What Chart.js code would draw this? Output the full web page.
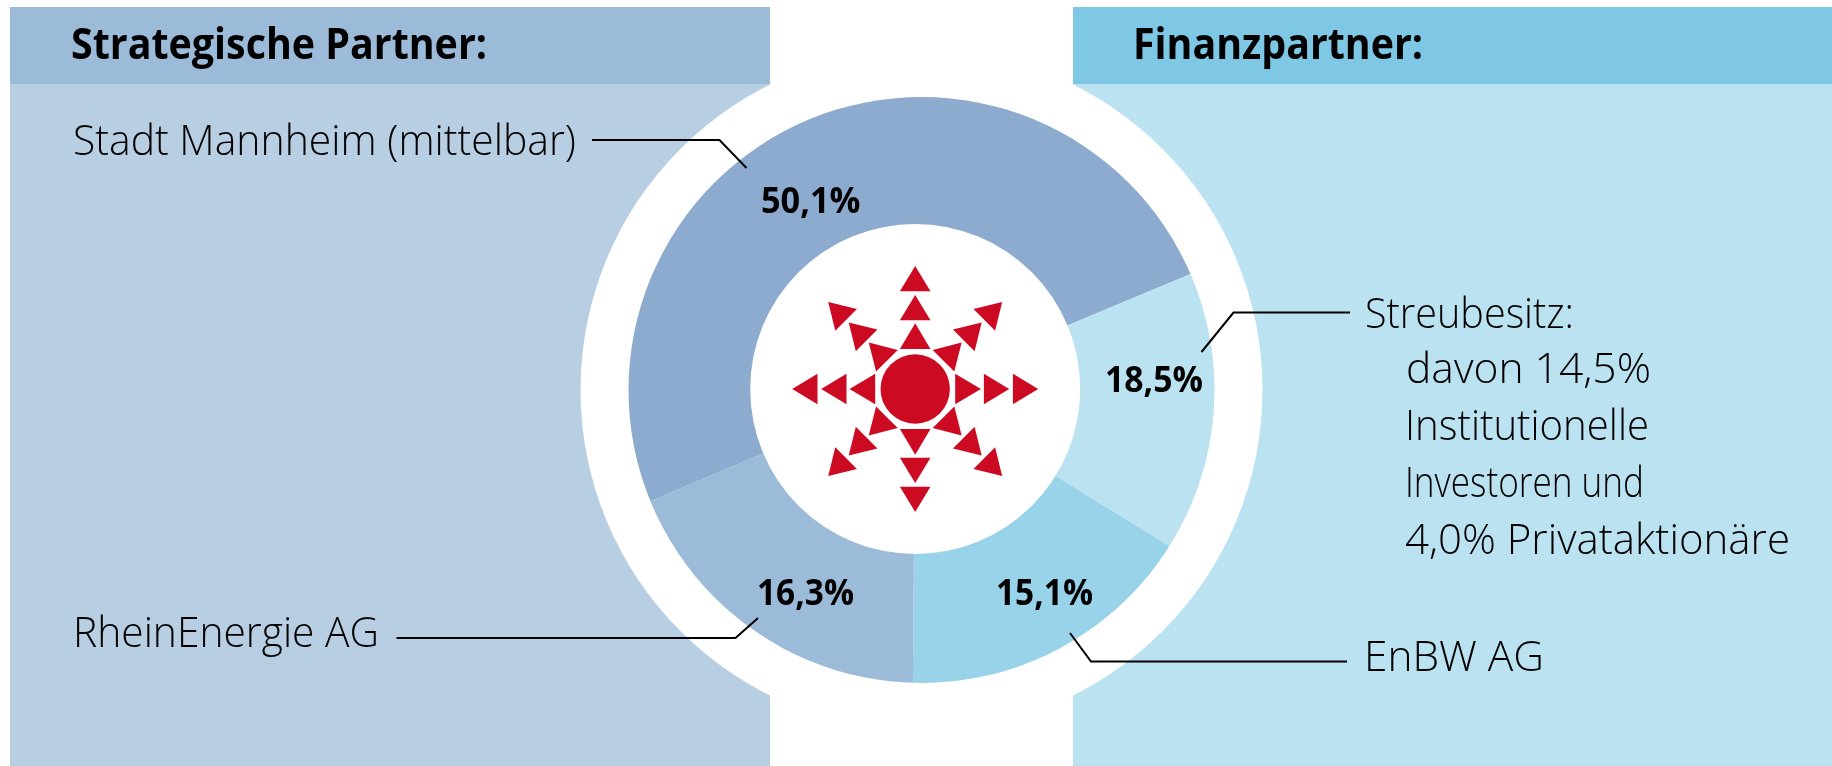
<!DOCTYPE html>
<html><head><meta charset="utf-8">
<script src="https://cdn.jsdelivr.net/npm/chart.js@4/dist/chart.umd.min.js"></script>
<style>
html,body{margin:0;padding:0;background:#fff;width:1832px;height:766px;overflow:hidden}
#wrap{position:relative;width:1832px;height:766px}
canvas{position:absolute;left:0;top:0}
.t{position:absolute;white-space:nowrap;color:#000;font-family:"Open Sans",sans-serif;transform-origin:0 0;line-height:1}
.b{font-weight:700}.l{font-weight:300}
</style></head><body>
<div id="wrap"><canvas id="c" width="1832" height="766"></canvas></div>
<script>
// Clockwise order in which the wedges are actually sized in the picture
const sliceNames = ["Stadt Mannheim","EnBW AG (Winkel)","RheinEnergie (Winkel)","Streubesitz (Winkel)"];
const sliceValues = [50.1, 15.1, 16.3, 18.5];
const sliceColors = ["#8CABCE","#BAE2F0","#99D3E9","#9BBBD8"];
// text: [string, class, left, baseline, width, fontSize]
const texts = [
 ["Strategische Partner:","b",71,59,416,43],
 ["Finanzpartner:","b",1133,59,290,43],
 ["Stadt Mannheim (mittelbar)","l",72.5,154.5,503,43],
 ["RheinEnergie AG","l",73,646.5,306,43],
 ["Streubesitz:","l",1365,327.5,209,43],
 ["davon 14,5%","l",1406,383,245,43],
 ["Institutionelle","l",1405,440,244,43],
 ["Investoren und","l",1405,497,239,43],
 ["4,0% Privataktionäre","l",1405,554,385,43],
 ["EnBW AG","l",1364,671,180,43],
 ["50,1%","b",760.5,212.5,99.5,36],
 ["18,5%","b",1105,391.5,98,36],
 ["16,3%","b",757,605,97,36],
 ["15,1%","b",996,605,97,36]
];
const leaders = [
 [[592,140],[719.5,140],[746.5,168]],
 [[1350,312.5],[1233.5,312.5],[1201.5,352]],
 [[396.5,638],[735.5,638],[758,618]],
 [[1070,633],[1091,661.5],[1347,661.5]]
];
const panels = [
 [10,7,760,77,"#9BBBD8"],[10,84,760,682,"#B8CFE3"],
 [1073,7,759,77,"#7EC8E5"],[1073,84,759,682,"#BAE2F0"]
];
const ring = {x:921.5,y:390,white:341,outer:293};
const hub = {x:915.2,y:389,inner:165,dot:34.7};
const arrowRows = [[40,65.7],[68.7,94],[97.7,123]];
const arrowHalf = 15.3, red = "#CC0A22";

const backdrop = {id:"backdrop",
 beforeDraw(ch){const c=ch.ctx;
  c.save();
  panels.forEach(p=>{c.fillStyle=p[4];c.fillRect(p[0],p[1],p[2],p[3]);});
  c.fillStyle="#fff";c.beginPath();c.arc(ring.x,ring.y,ring.white,0,Math.PI*2);c.fill();
  c.restore();},
 beforeDatasetsDraw(ch){const c=ch.ctx;
  c.save();c.beginPath();c.arc(ring.x,ring.y,ring.outer,0,Math.PI*2);c.clip();},
 afterDatasetsDraw(ch){const c=ch.ctx;
  c.restore();
  c.save();
  c.fillStyle="#fff";c.beginPath();c.arc(hub.x,hub.y,hub.inner,0,Math.PI*2);c.fill();
  c.fillStyle=red;c.beginPath();c.arc(hub.x,hub.y,hub.dot,0,Math.PI*2);c.fill();
  for(let k=0;k<8;k++){
   c.save();c.translate(hub.x,hub.y);c.rotate(k*Math.PI/4);
   arrowRows.forEach(r=>{c.beginPath();c.moveTo(-arrowHalf,-r[0]);c.lineTo(arrowHalf,-r[0]);c.lineTo(0,-r[1]);c.closePath();c.fill();});
   c.restore();
  }
  c.strokeStyle="#000";c.lineWidth=2;c.lineJoin="miter";
  leaders.forEach(l=>{c.beginPath();l.forEach((p,i)=>i?c.lineTo(p[0],p[1]):c.moveTo(p[0],p[1]));c.stroke();});
  c.restore();}
};

new Chart(document.getElementById("c"),{
 type:"doughnut",
 data:{labels:sliceNames,datasets:[{data:sliceValues,backgroundColor:sliceColors,borderWidth:0}]},
 options:{responsive:false,animation:false,rotation:247,cutout:"40%",
  layout:{padding:{left:595,right:597,top:69,bottom:57}},
  plugins:{legend:{display:false},tooltip:{enabled:false},title:{display:false}}},
 plugins:[backdrop]
});

const wrap=document.getElementById("wrap");
function place(){
 texts.forEach(t=>{
  const d=document.createElement("div");d.className="t "+t[1];d.textContent=t[0];
  d.style.fontSize=t[5]+"px";d.style.left=t[2]+"px";
  wrap.appendChild(d);
  const w=d.getBoundingClientRect().width;
  const s=document.createElement("span");s.style.cssText="display:inline-block;width:0;height:0";
  d.appendChild(s);
  const base=s.getBoundingClientRect().bottom-d.getBoundingClientRect().top;
  d.removeChild(s);
  d.style.top=(t[3]-base)+"px";
  d.style.transform="scaleX("+(t[4]/w)+")";
 });
}
place();
</script>
</body></html>
